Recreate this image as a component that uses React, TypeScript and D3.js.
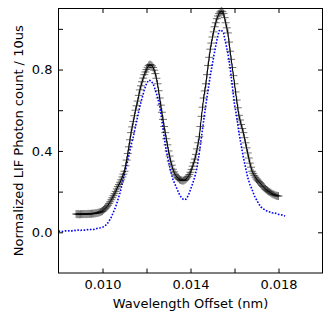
import * as d3 from "d3";
import React, { useRef, useEffect } from "react";

// black "+" scan: starts at 0.0088 nm, one sample every 0.00005 nm
const blackStart = 0.0088;
const blackStep = 0.00005;
const blackValues = [
  0.09, 0.089, 0.09, 0.088, 0.089, 0.09, 0.089, 0.09, 0.09, 0.089,
  0.09, 0.091, 0.09, 0.091, 0.091, 0.092, 0.092, 0.093, 0.094, 0.095,
  0.096, 0.098, 0.1, 0.102, 0.105, 0.11, 0.115, 0.12, 0.126, 0.133,
  0.141, 0.15, 0.16, 0.17, 0.18, 0.19, 0.201, 0.213, 0.225, 0.235,
  0.246, 0.258, 0.272, 0.286, 0.3, 0.327, 0.355, 0.387, 0.42, 0.455,
  0.49, 0.518, 0.545, 0.573, 0.6, 0.622, 0.645, 0.673, 0.7, 0.72,
  0.74, 0.758, 0.775, 0.788, 0.8, 0.811, 0.82, 0.824, 0.823, 0.818,
  0.81, 0.797, 0.78, 0.757, 0.73, 0.696, 0.66, 0.625, 0.59, 0.555,
  0.52, 0.49, 0.46, 0.43, 0.4, 0.375, 0.35, 0.33, 0.31, 0.297,
  0.285, 0.277, 0.27, 0.265, 0.26, 0.257, 0.255, 0.254, 0.255, 0.258,
  0.262, 0.268, 0.275, 0.284, 0.295, 0.309, 0.325, 0.342, 0.36, 0.383,
  0.41, 0.44, 0.47, 0.52, 0.57, 0.615, 0.66, 0.695, 0.73, 0.775,
  0.82, 0.86, 0.9, 0.93, 0.96, 0.985, 1.01, 1.03, 1.05, 1.063,
  1.075, 1.083, 1.088, 1.084, 1.075, 1.055, 1.03, 1.005, 0.98, 0.935,
  0.89, 0.85, 0.81, 0.77, 0.73, 0.69, 0.65, 0.612, 0.575, 0.552,
  0.53, 0.51, 0.49, 0.465, 0.44, 0.415, 0.39, 0.365, 0.34, 0.32,
  0.3, 0.29, 0.28, 0.271, 0.262, 0.256, 0.25, 0.244, 0.238, 0.231,
  0.225, 0.219, 0.213, 0.209, 0.205, 0.201, 0.198, 0.194, 0.19, 0.187,
  0.185, 0.182, 0.18, 0.179, 0.178,
];

// blue dotted scan: starts at 0.0080 nm, one sample every 0.0001 nm
const blueStart = 0.008;
const blueStep = 0.0001;
const blueValues = [
  0.005, 0.006, 0.004, 0.007, 0.006, 0.008, 0.007, 0.01, 0.008, 0.011,
  0.009, 0.012, 0.011, 0.013, 0.012, 0.015, 0.014, 0.017, 0.02, 0.022,
  0.025, 0.03, 0.04, 0.055, 0.075, 0.1, 0.125, 0.16, 0.195, 0.24,
  0.285, 0.33, 0.38, 0.43, 0.47, 0.52, 0.57, 0.62, 0.66, 0.7,
  0.73, 0.748, 0.745, 0.73, 0.7, 0.665, 0.62, 0.55, 0.47, 0.4,
  0.35, 0.3, 0.26, 0.235, 0.21, 0.185, 0.168, 0.16, 0.163, 0.18,
  0.21, 0.24, 0.275, 0.32, 0.39, 0.47, 0.55, 0.63, 0.7, 0.77,
  0.83, 0.89, 0.945, 0.99, 0.995, 0.98, 0.93, 0.88, 0.81, 0.72,
  0.63, 0.57, 0.49, 0.43, 0.37, 0.32, 0.27, 0.235, 0.21, 0.18,
  0.16, 0.14, 0.125, 0.115, 0.11, 0.102, 0.1, 0.095, 0.097, 0.092,
  0.088, 0.087, 0.084, 0.08,
];

const xTicks = [0.01, 0.012, 0.014, 0.016, 0.018];
const xTickLabels = ["0.010", "", "0.014", "", "0.018"];
const yTicks = [0, 0.2, 0.4, 0.6, 0.8, 1.0];
const yTickLabels = ["0.0", "", "0.4", "", "0.8", ""];

export default function App() {
  const ref = useRef(null);
  const width = 332;
  const height = 324;
  const margin = { left: 58.5, right: 9.5, top: 8.5, bottom: 51 };

  useEffect(() => {
    const svg = d3.select(ref.current);
    svg.selectAll("*").remove();

    const x = d3
      .scaleLinear()
      .domain([0.008, 0.02])
      .range([margin.left, width - margin.right]);
    const y = d3
      .scaleLinear()
      .domain([-0.2, 1.1])
      .range([height - margin.bottom, margin.top]);

    const black = blackValues.map((v, i) => [blackStart + i * blackStep, v]);
    const blue = blueValues.map((v, i) => [blueStart + i * blueStep, v]);

    const line = d3
      .line()
      .x(d => x(d[0]))
      .y(d => y(d[1]));

    const plot = svg.append("g");

    // blue dotted series
    plot
      .append("path")
      .datum(blue)
      .attr("d", line)
      .attr("fill", "none")
      .attr("stroke", "#0000ff")
      .attr("stroke-width", 1.6)
      .attr("stroke-dasharray", "1.6,1.6");

    // black line through the crosses
    plot
      .append("path")
      .datum(black)
      .attr("d", line)
      .attr("fill", "none")
      .attr("stroke", "black")
      .attr("stroke-width", 1);

    // "+" markers
    const m = 4;
    plot
      .selectAll("path.mk")
      .data(black)
      .enter()
      .append("path")
      .attr("class", "mk")
      .attr("d", d => {
        const cx = x(d[0]);
        const cy = y(d[1]);
        return `M${cx - m},${cy}H${cx + m}M${cx},${cy - m}V${cy + m}`;
      })
      .attr("stroke", "black")
      .attr("stroke-width", 1)
      .attr("stroke-opacity", 0.55)
      .attr("fill", "none");

    // ticks on all four sides, pointing inward
    const tl = 4.5;
    const axisLeft = d3.axisLeft(y).tickValues(yTicks).tickSizeInner(-tl).tickSizeOuter(0)
      .tickPadding(6).tickFormat((d, i) => yTickLabels[i]);
    const axisRight = d3.axisRight(y).tickValues(yTicks).tickSizeInner(-tl).tickSizeOuter(0)
      .tickFormat(() => "");
    const axisBottom = d3.axisBottom(x).tickValues(xTicks).tickSizeInner(-tl).tickSizeOuter(0)
      .tickPadding(7).tickFormat((d, i) => xTickLabels[i]);
    const axisTop = d3.axisTop(x).tickValues(xTicks).tickSizeInner(-tl).tickSizeOuter(0)
      .tickFormat(() => "");

    const styleAxis = g => {
      g.select(".domain").remove();
      g.selectAll("line").attr("stroke", "black").attr("stroke-width", 1);
      g.selectAll("text")
        .attr("font-family", "DejaVu Sans")
        .attr("font-size", "13px")
        .attr("fill", "black");
    };

    svg.append("g").attr("transform", `translate(${margin.left},0)`).call(axisLeft).call(styleAxis);
    svg.append("g").attr("transform", `translate(${width - margin.right},0)`).call(axisRight).call(styleAxis);
    svg.append("g").attr("transform", `translate(0,${height - margin.bottom})`).call(axisBottom).call(styleAxis);
    svg.append("g").attr("transform", `translate(0,${margin.top})`).call(axisTop).call(styleAxis);

    // frame
    svg
      .append("rect")
      .attr("x", margin.left)
      .attr("y", margin.top)
      .attr("width", width - margin.left - margin.right)
      .attr("height", height - margin.top - margin.bottom)
      .attr("fill", "none")
      .attr("stroke", "black")
      .attr("stroke-width", 1);

    // text label for the x axis
    svg
      .append("text")
      .attr("x", (margin.left + width - margin.right) / 2)
      .attr("y", 308)
      .attr("text-anchor", "middle")
      .attr("font-family", "DejaVu Sans")
      .attr("font-size", "13px")
      .text("Wavelength Offset (nm)");

    // text label for the y axis
    svg
      .append("text")
      .attr("transform", `translate(23,${(margin.top + height - margin.bottom) / 2}) rotate(-90)`)
      .attr("text-anchor", "middle")
      .attr("font-family", "DejaVu Sans")
      .attr("font-size", "13px")
      .text("Normalized LIF Photon count / 10us");
  }, []);

  return (
    <svg
      ref={ref}
      width={width}
      height={height}
      style={{ position: "absolute", left: 0, top: 0, background: "white" }}
    ></svg>
  );
}
